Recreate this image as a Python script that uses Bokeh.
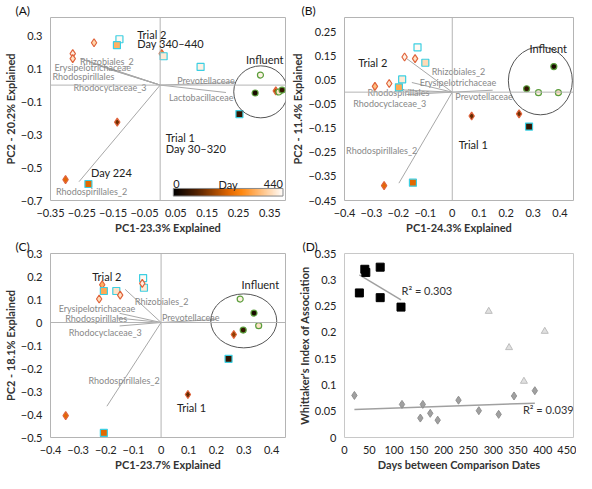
import numpy as np
from bokeh.plotting import figure
from bokeh.models import Span, FixedTicker, LinearColorMapper, Label, ColumnDataSource, Title
from bokeh.layouts import gridplot
from bokeh.core.properties import value
from bokeh.transform import linear_cmap, factor_mark, factor_cmap
from bokeh.embed import file_html
from bokeh.resources import INLINE

FONT = "Lato"

# ---------------- data ----------------
kinds = ["R1", "R2", "INF"]

# Panel A
a_kind = ["R1", "R1", "R1", "R1", "R2", "R2", "R2", "R2", "R1", "R1", "R2", "R2", "INF", "INF", "R1", "INF", "INF"]
a_x = [-0.279, -0.279, -0.211, 0.005, -0.130, -0.138, 0.011, 0.129, -0.137, -0.302, -0.229, 0.253, 0.320, 0.303, 0.369, 0.379, 0.389]
a_y = [0.191, 0.161, 0.257, 0.191, 0.278, 0.242, 0.175, 0.110, -0.225, -0.573, -0.600, -0.176, 0.061, -0.048, -0.035, -0.042, -0.030]
a_day = [420, 400, 380, 300, 430, 330, 410, 420, 120, 224, 224, 60, 420, 30, 180, 400, 60]
a_taxa = ["Rhizobiales_2", "Erysipelotrichaceae", "Rhodospirillales", "Rhodocyclaceae_3", "Prevotellaceae", "Lactobacillaceae", "Rhodospirillales_2"]
a_load_x = [-0.255, -0.225, -0.200, -0.170, 0.240, 0.210, -0.259]
a_load_y = [0.160, 0.140, 0.120, 0.100, 0.016, -0.045, -0.586]
a_lab_x = [-0.170, -0.215, -0.245, -0.160, 0.146, 0.131, -0.219]
a_lab_y = [0.146, 0.107, 0.055, -0.017, 0.028, -0.078, -0.646]

# Panel B
b_kind = ["R2", "R1", "R1", "R2", "R2", "R1", "R1", "R2", "R1", "R1", "R2", "R1", "R2", "INF", "INF", "INF", "INF"]
b_x = [-0.129, -0.177, -0.138, -0.100, -0.186, -0.234, -0.287, -0.198, 0.072, 0.248, 0.285, -0.253, -0.146, 0.377, 0.276, 0.320, 0.394]
b_y = [0.186, 0.146, 0.139, 0.122, 0.053, 0.036, 0.024, 0.020, -0.099, -0.090, -0.143, -0.388, -0.376, 0.106, 0.014, -0.002, -0.002]
b_day = [430, 420, 400, 390, 410, 400, 350, 320, 110, 120, 60, 224, 224, 30, 60, 420, 400]
b_taxa = ["Rhizobiales_2", "Erysipelotrichaceae", "Rhodospirillales", "Rhodocyclaceae_3", "Prevotellaceae", "Rhodospirillales_2"]
b_load_x = [-0.170, -0.150, -0.200, -0.170, 0.150, -0.198]
b_load_y = [0.140, 0.040, 0.010, -0.010, 0.008, -0.378]
b_lab_x = [0.023, 0.021, -0.200, -0.232, 0.118, -0.262]
b_lab_y = [0.087, 0.039, 0.000, -0.047, -0.019, -0.241]

# Panel C
c_kind = ["R2", "R2", "R1", "R1", "R2", "R2", "R1", "R1", "INF", "INF", "INF", "INF", "R1", "R2", "R1", "R1", "R2"]
c_x = [-0.065, -0.062, -0.068, -0.213, -0.207, -0.162, -0.148, -0.224, 0.286, 0.336, 0.353, 0.297, 0.263, 0.244, 0.097, -0.345, -0.207]
c_y = [0.193, 0.151, 0.170, 0.164, 0.137, 0.137, 0.119, 0.102, 0.102, 0.041, -0.014, -0.033, -0.052, -0.158, -0.313, -0.405, -0.480]
c_day = [430, 410, 420, 330, 320, 400, 400, 390, 420, 30, 400, 60, 150, 60, 110, 224, 224]
c_taxa = ["Rhizobiales_2", "Erysipelotrichaceae", "Rhodospirillales", "Rhodocyclaceae_3", "Prevotellaceae", "Rhodospirillales_2"]
c_load_x = [-0.130, -0.150, -0.160, -0.150, 0.200, -0.196]
c_load_y = [0.144, 0.040, 0.020, -0.015, 0.013, -0.364]
c_lab_x = [0.002, -0.232, -0.235, -0.202, 0.107, -0.134]
c_lab_y = [0.093, 0.061, 0.016, -0.042, 0.022, -0.252]

# Panel D
d_sq_days = [30, 41, 43, 72, 72, 114]
d_sq_val = [0.275, 0.320, 0.314, 0.324, 0.266, 0.248]
d_dia_days = [20, 116, 153, 158, 173, 188, 230, 271, 311, 342, 384]
d_dia_val = [0.080, 0.063, 0.037, 0.063, 0.046, 0.033, 0.071, 0.051, 0.044, 0.079, 0.089]
d_tri_days = [291, 332, 362, 404]
d_tri_val = [0.240, 0.171, 0.107, 0.202]

# tick labels
ab_xticks = [-0.35, -0.25, -0.15, -0.05, 0.05, 0.15, 0.25, 0.35]
a_yticks = [-0.7, -0.5, -0.3, -0.1, 0.1, 0.3]
bc_xticks = [-0.4, -0.3, -0.2, -0.1, 0.0, 0.1, 0.2, 0.3, 0.4]
b_yticks = [-0.45, -0.35, -0.25, -0.15, -0.05, 0.05, 0.15, 0.25]
c_yticks = [-0.5, -0.4, -0.3, -0.2, -0.1, 0.0, 0.1, 0.2, 0.3]
d_xticks = [0, 50, 100, 150, 200, 250, 300, 350, 400, 450]
d_yticks = [0, 0.05, 0.1, 0.15, 0.2, 0.25, 0.3, 0.35]
day_range = [0, 440]

# ---------------- styling helpers ----------------
def make_palette(n=256):
    stops = [(0.0, (0, 0, 0)), (0.22, (0x55, 0x22, 0x00)), (0.5, (0xe0, 0x66, 0x00)),
             (0.62, (0xff, 0x88, 0x10)), (0.8, (0xff, 0xc0, 0x80)), (1.0, (0xff, 0xff, 0xff))]
    pal = []
    for i in range(n):
        t = i / (n - 1)
        for (t0, c0), (t1, c1) in zip(stops[:-1], stops[1:]):
            if t0 <= t <= t1:
                f = (t - t0) / (t1 - t0)
                c = [int(round(c0[k] + f * (c1[k] - c0[k]))) for k in range(3)]
                pal.append("#%02x%02x%02x" % tuple(c))
                break
    return pal

PAL = make_palette()
MARKERS = ["diamond", "square", "circle"]
OUTLINES = ["#e0643c", "#3ccfe2", "#5a9e3c"]
SIZES = {"R1": 8, "R2": 7, "INF": 6}


def fmt(v):
    s = ("%.2f" % v).rstrip("0").rstrip(".")
    if s in ("-0", "0.0"):
        s = "0"
    return s.replace("-", "\u2212")


def base_fig(xr, yr, xticks, yticks, xlabel, ylabel, tag, w, h, bl, br, bb):
    p = figure(width=w, height=h, x_range=xr, y_range=yr, output_backend="svg",
               toolbar_location=None, min_border_left=bl, min_border_right=br,
               min_border_top=0, min_border_bottom=bb)
    p.title = Title(text=tag, align="left", offset=-bl + 1, standoff=0,
                    text_font=FONT, text_font_size="12px", text_font_style="normal",
                    text_color="#111111")
    p.xgrid.visible = False
    p.ygrid.visible = False
    p.outline_line_color = "#b4b4b4"
    p.outline_line_width = 1
    for ax, ticks, lab in ((p.xaxis[0], xticks, xlabel), (p.yaxis[0], yticks, ylabel)):
        ax.ticker = FixedTicker(ticks=ticks)
        ax.major_label_overrides = {t: fmt(t) for t in ticks}
        ax.axis_line_color = None
        ax.major_tick_line_color = None
        ax.minor_tick_line_color = None
        ax.major_label_text_font = FONT
        ax.major_label_text_font_size = "11px"
        ax.major_label_text_color = "#222222"
        ax.major_label_standoff = 2
        ax.axis_label = lab
        ax.axis_label_text_font = FONT
        ax.axis_label_text_font_size = "11px"
        ax.axis_label_text_font_style = "bold"
        ax.axis_label_text_color = "#333333"
        ax.axis_label_standoff = 1
    return p


def pca_panel(p, xs, ys, days, kind, taxa, lx, ly, tx, ty):
    p.add_layout(Span(location=0, dimension="width", line_color="#b4b4b4", line_width=1))
    p.add_layout(Span(location=0, dimension="height", line_color="#b4b4b4", line_width=1))
    p.segment(x0=[0] * len(lx), y0=[0] * len(ly), x1=lx, y1=ly, line_color="#a8a8a8", line_width=1)
    p.text(x=tx, y=ty, text=taxa, text_font=value(FONT), text_font_size="9px",
           text_color="#888888", text_align="center", text_baseline="middle")
    src = ColumnDataSource(dict(x=xs, y=ys, day=days, kind=kind,
                                size=[SIZES[k] for k in kind]))
    p.scatter("x", "y", source=src, size="size",
              marker=factor_mark("kind", MARKERS, kinds),
              fill_color=linear_cmap("day", PAL, day_range[0], day_range[1]),
              line_color=factor_cmap("kind", OUTLINES, kinds), line_width=1.2)


def txt(p, x, y, s, align="left", size="11px", color="#222222"):
    p.add_layout(Label(x=x, y=y, text=s, text_font=FONT, text_font_size=size,
                       text_color=color, text_align=align, text_baseline="middle"))


def influent_ring(p, cx, cy, w, h):
    p.ellipse(x=[cx], y=[cy], width=w, height=h, width_units="screen", height_units="screen",
              fill_color=None, line_color="#555555", line_width=1)

# ---------------- Panel A ----------------
pa = base_fig((-0.35, 0.40), (-0.70, 0.41), ab_xticks, a_yticks,
              "PC1-23.3% Explained", "PC2 - 20.2% Explained", "(A)", 288, 236, 36, 3, 28)
pca_panel(pa, a_x, a_y, a_day, a_kind, a_taxa, a_load_x, a_load_y, a_lab_x, a_lab_y)
influent_ring(pa, 0.321, -0.041, 54, 52)
txt(pa, -0.073, 0.309, "Trial 2")
txt(pa, -0.073, 0.251, "Day 340\u2013440")
txt(pa, 0.018, -0.320, "Trial 1")
txt(pa, 0.018, -0.386, "Day 30\u2013320")
txt(pa, -0.221, -0.533, "Day 224")
txt(pa, 0.334, 0.155, "Influent", align="center")
# day colour scale (legend)
mapper = LinearColorMapper(palette=PAL, low=day_range[0], high=day_range[1])
grad = np.linspace(day_range[0], day_range[1], 256).reshape(1, -1)
pa.image(image=[grad], x=0.042, y=-0.673, dw=0.35, dh=0.046, color_mapper=mapper)
pa.rect(x=[0.217], y=[-0.650], width=0.35, height=0.046, fill_color=None,
        line_color="#888888", line_width=1)
txt(pa, 0.042, -0.600, "0")
txt(pa, 0.217, -0.600, "Day", align="center")
txt(pa, 0.392, -0.600, "440", align="right")

# ---------------- Panel B ----------------
pb = base_fig((-0.40, 0.45), (-0.45, 0.31), bc_xticks, b_yticks,
              "PC1-24.3% Explained", "PC2 - 11.4% Explained", "(B)", 288, 236, 44, 3, 28)
pca_panel(pb, b_x, b_y, b_day, b_kind, b_taxa, b_load_x, b_load_y, b_lab_x, b_lab_y)
influent_ring(pb, 0.327, 0.047, 64, 68)
txt(pb, -0.295, 0.122, "Trial 2", align="center")
txt(pb, 0.078, -0.219, "Trial 1", align="center")
txt(pb, 0.356, 0.183, "Influent", align="center")

# ---------------- Panel C ----------------
pc = base_fig((-0.40, 0.45), (-0.50, 0.30), bc_xticks, c_yticks,
              "PC1-23.7% Explained", "PC2 - 18.1% Explained", "(C)", 288, 237, 36, 3, 28)
pca_panel(pc, c_x, c_y, c_day, c_kind, c_taxa, c_load_x, c_load_y, c_lab_x, c_lab_y)
influent_ring(pc, 0.299, 0.007, 66, 54)
txt(pc, -0.196, 0.198, "Trial 2", align="center")
txt(pc, 0.110, -0.371, "Trial 1", align="center")
txt(pc, 0.359, 0.166, "Influent", align="center")

# ---------------- Panel D ----------------
pd_ = base_fig((0, 462), (0, 0.35), d_xticks, d_yticks,
               "Days between Comparison Dates", "Whittaker's Index of Association", "(D)",
               288, 237, 43, 3, 28)
pd_.outline_line_color = "#c8c8c8"
for dx, dy in ((d_sq_days, d_sq_val), (d_dia_days, d_dia_val)):
    k, b = np.polyfit(dx, dy, 1)
    xx = np.array([min(dx), max(dx)])
    pd_.line(xx, k * xx + b, line_color="#a0a0a0", line_width=1.5)
pd_.scatter(d_sq_days, d_sq_val, marker="square", size=8, fill_color="#000000", line_color="#000000")
pd_.scatter(d_dia_days, d_dia_val, marker="diamond", size=8, fill_color="#a0a0a0", line_color="#909090")
pd_.scatter(d_tri_days, d_tri_val, marker="triangle", size=7, fill_color="#e0e0e0", line_color="#bdbdbd")
txt(pd_, 115, 0.279, "R\u00b2 = 0.303", color="#333333")
txt(pd_, 360, 0.053, "R\u00b2 = 0.039", color="#333333")

grid = gridplot([[pa, pb], [pc, pd_]], toolbar_location=None)
open("out.html", "w").write(file_html(grid, INLINE))
